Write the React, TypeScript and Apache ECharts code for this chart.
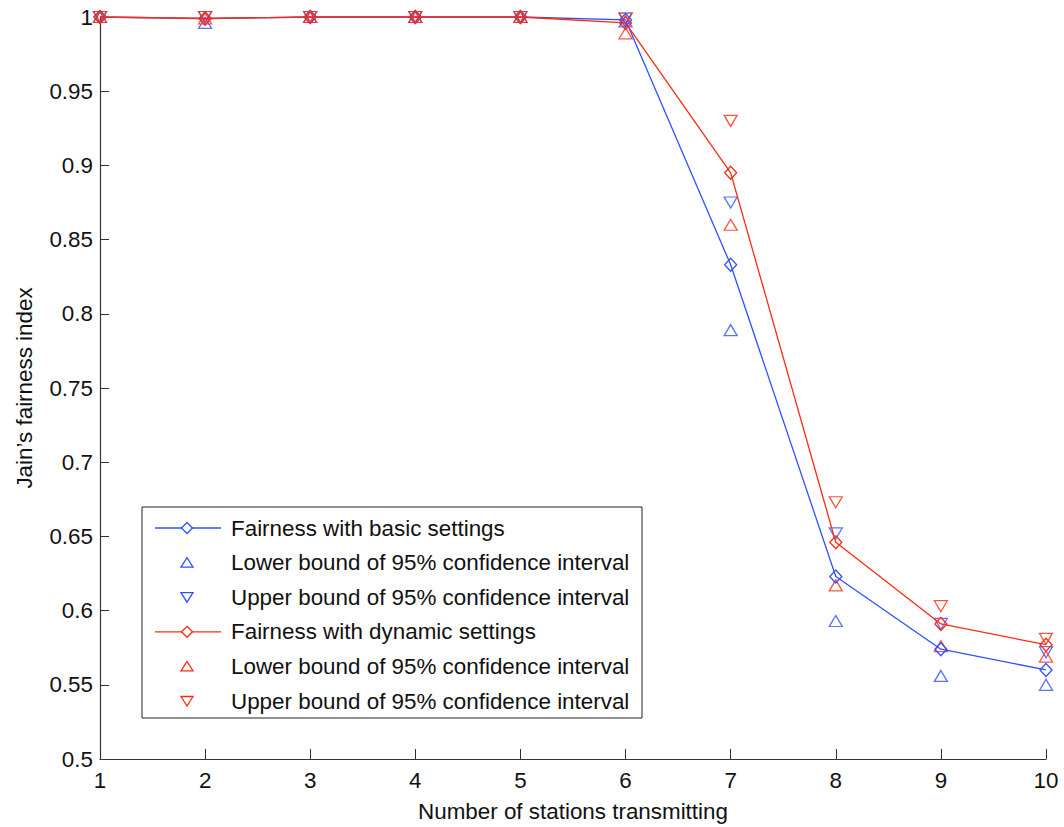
import React, { useEffect, useRef } from "react";
import * as echarts from "echarts";

const stations = [1, 2, 3, 4, 5, 6, 7, 8, 9, 10];
const basicFairness = [1.0, 0.999, 1.0, 1.0, 1.0, 0.998, 0.833, 0.623, 0.574, 0.560];
const basicLower = [1.0, 0.996, 1.0, 1.0, 1.0, 0.997, 0.789, 0.593, 0.556, 0.550];
const basicUpper = [1.0, 1.0, 1.0, 1.0, 1.0, 0.999, 0.875, 0.652, 0.591, 0.572];
const dynFairness = [1.0, 0.999, 1.0, 1.0, 1.0, 0.996, 0.895, 0.646, 0.591, 0.577];
const dynLower = [1.0, 0.999, 1.0, 1.0, 1.0, 0.989, 0.860, 0.617, 0.576, 0.569];
const dynUpper = [1.0, 1.0, 1.0, 1.0, 1.0, 0.999, 0.930, 0.673, 0.603, 0.581];

const legendLabels = [
  "Fairness with basic settings",
  "Lower bound of 95% confidence interval",
  "Upper bound of 95% confidence interval",
  "Fairness with dynamic settings",
  "Lower bound of 95% confidence interval",
  "Upper bound of 95% confidence interval",
];
const legendKinds = ["line", "up", "down", "line", "up", "down"];

const BLUE = "#3050ff";
const RED = "#ff2a10";
const FONT = "'Liberation Sans', Arial, Helvetica, sans-serif";
const FS = 22.4;

const pair = (vals: number[]) => stations.map((s, i) => [s, vals[i]]);

function buildLegend() {
  const els: any[] = [];
  els.push({
    type: "rect",
    shape: { x: 142, y: 507, width: 500, height: 211 },
    style: { fill: "#fff", stroke: "#222", lineWidth: 1 },
    z: 100,
  });
  legendLabels.forEach((label, i) => {
    const y = 528 + i * 34.6;
    const color = i < 3 ? BLUE : RED;
    const kind = legendKinds[i];
    const cx = 187;
    if (kind === "line") {
      els.push({
        type: "line",
        shape: { x1: 155, y1: y, x2: 221, y2: y },
        style: { stroke: color, lineWidth: 1.3 },
        z: 101,
      });
      els.push({
        type: "polygon",
        shape: { points: [[cx, y - 5.5], [cx + 5.5, y], [cx, y + 5.5], [cx - 5.5, y]] },
        style: { fill: "#fff", stroke: color, lineWidth: 1.3 },
        z: 102,
      });
    } else if (kind === "up") {
      els.push({
        type: "polygon",
        shape: { points: [[cx - 6, y + 4.5], [cx + 6, y + 4.5], [cx, y - 5]] },
        style: { fill: "none", stroke: color, lineWidth: 1.3 },
        z: 102,
      });
    } else {
      els.push({
        type: "polygon",
        shape: { points: [[cx - 6, y - 4.5], [cx + 6, y - 4.5], [cx, y + 5]] },
        style: { fill: "none", stroke: color, lineWidth: 1.3 },
        z: 102,
      });
    }
    els.push({
      type: "text",
      x: 231,
      y,
      style: {
        text: label,
        fontSize: FS,
        fontFamily: FONT,
        fill: "#111",
        verticalAlign: "middle",
        align: "left",
      },
      z: 102,
    });
  });
  return els;
}

export default function App() {
  const ref = useRef<HTMLDivElement>(null);
  useEffect(() => {
    if (!ref.current) return;
    const chart = echarts.init(ref.current, undefined, { renderer: "svg" });
    const lineSeries = (name: string, vals: number[], color: string) => ({
      name,
      type: "line",
      data: pair(vals),
      symbol: "diamond",
      symbolSize: [12, 13],
      clip: false,
      lineStyle: { color, width: 1.3 },
      itemStyle: { color: "transparent", borderColor: color, borderWidth: 1.3 },
      emphasis: { disabled: true },
    });
    const scatterSeries = (name: string, vals: number[], color: string, down: boolean) => ({
      name,
      type: "scatter",
      data: pair(vals),
      symbol: "triangle",
      symbolSize: [13, 11],
      symbolRotate: down ? 180 : 0,
      clip: false,
      itemStyle: { color: "transparent", borderColor: color, borderWidth: 1.3 },
      emphasis: { disabled: true },
    });
    chart.setOption({
      animation: false,
      backgroundColor: "#fff",
      textStyle: { fontFamily: FONT },
      grid: { left: 100, right: 18, top: 17, bottom: 63, containLabel: false },
      xAxis: {
        type: "value",
        min: 1,
        max: 10,
        interval: 1,
        name: "Number of stations transmitting",
        nameLocation: "middle",
        nameGap: 41,
        nameTextStyle: { fontSize: FS, color: "#111", fontFamily: FONT },
        axisLine: { show: true, lineStyle: { color: "#333", width: 1.2 } },
        axisTick: { show: true, inside: true, length: 10, lineStyle: { color: "#333" } },
        axisLabel: { fontSize: FS, color: "#111", margin: 10, fontFamily: FONT },
        splitLine: { show: false },
      },
      yAxis: {
        type: "value",
        min: 0.5,
        max: 1,
        interval: 0.05,
        name: "Jain\u2019s fairness index",
        nameLocation: "middle",
        nameGap: 65,
        nameRotate: 90,
        nameTextStyle: { fontSize: FS, color: "#111", fontFamily: FONT },
        axisLine: { show: true, lineStyle: { color: "#333", width: 1.2 } },
        axisTick: { show: true, inside: true, length: 9, lineStyle: { color: "#333" } },
        axisLabel: { fontSize: FS, color: "#111", margin: 7, fontFamily: FONT },
        splitLine: { show: false },
      },
      series: [
        lineSeries("basic", basicFairness, BLUE),
        scatterSeries("basicLower", basicLower, BLUE, false),
        scatterSeries("basicUpper", basicUpper, BLUE, true),
        lineSeries("dynamic", dynFairness, RED),
        scatterSeries("dynLower", dynLower, RED, false),
        scatterSeries("dynUpper", dynUpper, RED, true),
      ],
      graphic: buildLegend(),
    });
    return () => chart.dispose();
  }, []);
  return (
    <div
      ref={ref}
      style={{ width: 1064, height: 827, position: "absolute", left: 0, top: 0, background: "#fff" }}
    />
  );
}
